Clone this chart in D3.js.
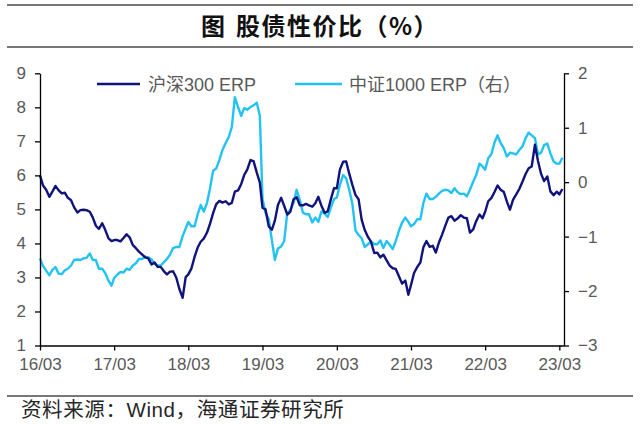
<!DOCTYPE html>
<html><head><meta charset="utf-8">
<script src="https://cdn.jsdelivr.net/npm/d3@7"></script>
<style>body{margin:0;background:#fff}svg{display:block}</style>
</head><body><svg id="c" width="640" height="424"></svg>
<script>
const dates = [
"2016-03-01","2016-03-16","2016-04-01","2016-04-16","2016-05-01","2016-05-16","2016-06-01","2016-06-16","2016-07-01","2016-07-16",
"2016-08-01","2016-08-16","2016-09-01","2016-09-16","2016-10-01","2016-10-16","2016-11-01","2016-11-16","2016-12-01","2016-12-16",
"2017-01-01","2017-01-16","2017-02-01","2017-02-16","2017-03-01","2017-03-16","2017-04-01","2017-04-16","2017-05-01","2017-05-16",
"2017-06-01","2017-06-16","2017-07-01","2017-07-16","2017-08-01","2017-08-16","2017-09-01","2017-09-16","2017-10-01","2017-10-16",
"2017-11-01","2017-11-16","2017-12-01","2017-12-16","2018-01-01","2018-01-16","2018-02-01","2018-02-16","2018-03-01","2018-03-16",
"2018-04-01","2018-04-16","2018-05-01","2018-05-16","2018-06-01","2018-06-16","2018-07-01","2018-07-16","2018-08-01","2018-08-16",
"2018-09-01","2018-09-16","2018-10-01","2018-10-16","2018-11-01","2018-11-16","2018-12-01","2018-12-16","2019-01-01","2019-01-16",
"2019-02-01","2019-02-16","2019-03-01","2019-03-16","2019-04-01","2019-04-16","2019-05-01","2019-05-16","2019-06-01","2019-06-16",
"2019-07-01","2019-07-16","2019-08-01","2019-08-16","2019-09-01","2019-09-16","2019-10-01","2019-10-16","2019-11-01","2019-11-16",
"2019-12-01","2019-12-16","2020-01-01","2020-01-16","2020-02-01","2020-02-16","2020-03-01","2020-03-16","2020-04-01","2020-04-16",
"2020-05-01","2020-05-16","2020-06-01","2020-06-16","2020-07-01","2020-07-16","2020-08-01","2020-08-16","2020-09-01","2020-09-16",
"2020-10-01","2020-10-16","2020-11-01","2020-11-16","2020-12-01","2020-12-16","2021-01-01","2021-01-16","2021-02-01","2021-02-16",
"2021-03-01","2021-03-16","2021-04-01","2021-04-16","2021-05-01","2021-05-16","2021-06-01","2021-06-16","2021-07-01","2021-07-16",
"2021-08-01","2021-08-16","2021-09-01","2021-09-16","2021-10-01","2021-10-16","2021-11-01","2021-11-16","2021-12-01","2021-12-16",
"2022-01-01","2022-01-16","2022-02-01","2022-02-16","2022-03-01","2022-03-16","2022-04-01","2022-04-16","2022-05-01","2022-05-16",
"2022-06-01","2022-06-16","2022-07-01","2022-07-16","2022-08-01","2022-08-16","2022-09-01","2022-09-16","2022-10-01","2022-10-16",
"2022-11-01","2022-11-16","2022-12-01","2022-12-16","2023-01-01","2023-01-16","2023-02-01","2023-02-16","2023-03-01","2023-03-16"
];

// 沪深300 ERP (left axis, %)
const hs300Erp = [
6.00,5.70,5.57,5.37,5.52,5.69,5.56,5.47,5.49,5.34,
5.27,5.06,4.91,4.98,4.99,4.98,4.93,4.76,4.52,4.43,
4.59,4.40,4.15,4.07,4.10,4.10,4.06,4.16,4.27,4.18,
3.95,3.86,3.76,3.68,3.59,3.56,3.38,3.44,3.31,3.31,
3.18,3.09,3.17,3.18,2.99,2.66,2.40,3.01,3.09,3.26,
3.61,3.88,4.05,4.14,4.32,4.58,4.89,5.15,5.25,5.20,
5.24,5.15,5.19,5.52,5.56,5.74,6.01,6.17,6.45,6.42,
6.08,5.79,5.05,5.00,4.50,4.40,4.67,5.13,5.34,5.10,
4.85,4.93,5.30,5.36,5.12,5.12,5.16,5.12,5.08,5.18,
5.37,5.11,4.90,4.94,5.31,5.62,5.62,6.17,6.40,6.41,
6.05,5.73,5.42,5.30,4.70,4.40,4.19,4.05,3.72,3.73,
3.59,3.67,3.50,3.35,3.27,3.25,3.03,2.82,2.91,2.49,
2.78,3.13,3.31,3.44,3.89,4.07,3.90,3.93,3.73,4.02,
4.26,4.51,4.76,4.80,4.67,4.73,4.83,4.76,4.74,4.32,
4.41,4.66,4.85,4.74,4.93,5.24,5.34,5.51,5.70,5.58,
5.51,5.23,4.99,5.28,5.44,5.60,5.82,6.04,6.21,6.26,
6.90,6.42,6.05,5.83,5.97,5.53,5.42,5.52,5.44,5.60
];

// 中证1000 ERP (right axis, %)
const zz1000Erp = [
-1.40,-1.54,-1.63,-1.71,-1.61,-1.56,-1.68,-1.69,-1.62,-1.59,
-1.53,-1.43,-1.42,-1.43,-1.40,-1.39,-1.31,-1.43,-1.43,-1.59,
-1.59,-1.67,-1.81,-1.90,-1.76,-1.70,-1.65,-1.66,-1.59,-1.61,
-1.53,-1.49,-1.41,-1.41,-1.37,-1.38,-1.42,-1.50,-1.53,-1.53,
-1.47,-1.41,-1.33,-1.21,-1.19,-1.19,-0.99,-0.85,-0.73,-0.81,
-0.81,-0.59,-0.42,-0.54,-0.38,-0.11,0.21,0.25,0.41,0.59,
0.72,0.83,1.01,1.56,1.38,1.22,1.36,1.33,1.38,1.41,
1.46,1.22,-0.31,-0.56,-0.68,-1.06,-1.43,-1.22,-1.18,-1.08,
-0.57,-0.51,-0.38,-0.14,-0.33,-0.56,-0.59,-0.59,-0.74,-0.65,
-0.73,-0.54,-0.58,-0.64,-0.46,-0.31,-0.28,-0.05,0.13,0.07,
-0.14,-0.39,-0.89,-0.97,-1.03,-1.19,-1.14,-1.09,-1.14,-1.14,
-1.07,-1.21,-1.08,-1.15,-1.23,-1.08,-0.89,-0.74,-0.65,-0.73,
-0.81,-0.77,-0.68,-0.68,-0.38,-0.21,-0.31,-0.31,-0.27,-0.21,
-0.16,-0.14,-0.15,-0.20,-0.11,-0.18,-0.22,-0.21,-0.26,-0.14,
0.01,0.13,0.34,0.29,0.23,0.44,0.52,0.73,0.86,0.72,
0.62,0.47,0.54,0.53,0.51,0.59,0.66,0.81,0.91,0.86,
0.81,0.51,0.54,0.68,0.71,0.53,0.38,0.34,0.34,0.45
];

const leftTicks = [1,2,3,4,5,6,7,8,9];
const rightTicks = [-3,-2,-1,0,1,2];
const xTickDates = ["2016-03-01","2017-03-01","2018-03-01","2019-03-01","2020-03-01","2021-03-01","2022-03-01","2023-03-01"];
const xTickLabels = ["16/03","17/03","18/03","19/03","20/03","21/03","22/03","23/03"];
const seriesNames = ["沪深300 ERP","中证1000 ERP（右）"];
const titleFig = "图";
const titleText = "股债性价比（%）";
const sourceText = "资料来源：Wind，海通证券研究所";

const parse = d3.timeParse("%Y-%m-%d");
const svg = d3.select("#c");
const FONT = "'Liberation Sans', Arial, 'Noto Sans CJK SC', sans-serif";
const C_DARK = "#10127e", C_LIGHT = "#22c3f2", C_TXT = "#595959";

const x = d3.scaleTime().domain([parse("2016-03-01"), parse("2023-03-24")]).range([40, 564]);
const yL = d3.scaleLinear().domain([1, 9]).range([345.5, 73.3]);
const yR = d3.scaleLinear().domain([-3, 2]).range([345.5, 73.3]);

// header / footer rules
[5, 47, 396].forEach(y => svg.append("line").attr("x1", 7).attr("x2", 633).attr("y1", y).attr("y2", y)
  .attr("stroke", "#4a4a4a").attr("stroke-width", 1.6));

svg.append("text").attr("x", 201).attr("y", 35).text(titleFig)
  .attr("font-family", "'Noto Sans CJK SC', sans-serif").attr("font-size", 24).attr("font-weight", "bold").attr("fill", "#111");
svg.append("text").attr("x", 236).attr("y", 35).text(titleText)
  .attr("font-family", "'Noto Sans CJK SC', sans-serif").attr("font-size", 24).attr("font-weight", "bold").attr("fill", "#111")
  .attr("letter-spacing", 1.5);

svg.append("text").attr("x", 21).attr("y", 417).text(sourceText)
  .attr("font-family", FONT).attr("font-size", 20.5).attr("fill", "#262626")
  .attr("letter-spacing", 0.6);

// lines
const lineL = d3.line().x((d, i) => x(parse(dates[i]))).y(d => yL(d));
const lineR = d3.line().x((d, i) => x(parse(dates[i]))).y(d => yR(d));

svg.append("path").datum(zz1000Erp).attr("d", lineR).attr("fill", "none")
  .attr("stroke", C_LIGHT).attr("stroke-width", 2.4).attr("stroke-linejoin", "round");
svg.append("path").datum(hs300Erp).attr("d", lineL).attr("fill", "none")
  .attr("stroke", C_DARK).attr("stroke-width", 2.4).attr("stroke-linejoin", "round");

// axes
function styleAxis(g) {
  g.selectAll("path,line").attr("stroke", "#000").attr("stroke-width", 1.3);
  g.selectAll("text").attr("fill", C_TXT).attr("font-family", FONT).attr("font-size", 17);
}
svg.append("g").attr("transform", "translate(0,345.5)")
  .call(d3.axisBottom(x).tickValues(xTickDates.map(parse)).tickFormat((d, i) => xTickLabels[i]).tickSize(5).tickSizeOuter(0).tickPadding(7))
  .call(styleAxis);
svg.append("g").attr("transform", "translate(40,0)")
  .call(d3.axisLeft(yL).tickValues(leftTicks).tickFormat(d3.format("d")).tickSize(5).tickSizeOuter(0).tickPadding(9))
  .call(styleAxis);
svg.append("g").attr("transform", "translate(564,0)")
  .call(d3.axisRight(yR).tickValues(rightTicks).tickFormat(d3.format("d")).tickSize(5).tickSizeOuter(0).tickPadding(9))
  .call(styleAxis);

// legend
const legend = [
  {name: seriesNames[0], color: C_DARK, x1: 97, x2: 140, tx: 148},
  {name: seriesNames[1], color: C_LIGHT, x1: 295, x2: 342, tx: 349}
];
legend.forEach(l => {
  svg.append("line").attr("x1", l.x1).attr("x2", l.x2).attr("y1", 84).attr("y2", 84)
    .attr("stroke", l.color).attr("stroke-width", 2.6);
  svg.append("text").attr("x", l.tx).attr("y", 90.5).text(l.name)
    .attr("font-family", FONT).attr("font-size", 18).attr("fill", C_TXT);
});
</script>
</body></html>
